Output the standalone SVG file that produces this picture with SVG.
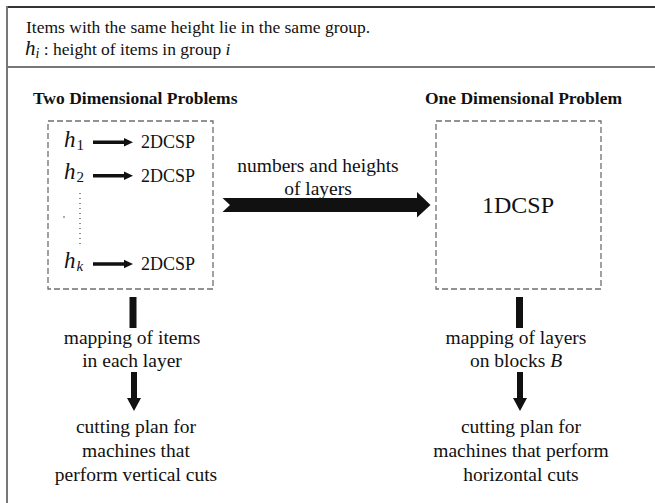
<svg xmlns="http://www.w3.org/2000/svg" width="655" height="503" viewBox="0 0 655 503">
<style>
.t{font-family:"Liberation Serif","Times New Roman",serif;fill:#111}
.b{font-weight:bold}
.c{text-anchor:middle}
.i{font-style:italic}
.box{fill:none;stroke:#6f6f6f;stroke-width:1.3;stroke-dasharray:6,3}
.ar{fill:#111}
</style>
<rect width="655" height="503" fill="#fff"/>
<g id="frame">
<line x1="7" y1="7" x2="655" y2="7" stroke="#333" stroke-width="2"/>
<line x1="7" y1="6" x2="7" y2="503" stroke="#777" stroke-width="2"/>
<line x1="7" y1="67" x2="655" y2="67" stroke="#777" stroke-width="2"/>
</g>
<g id="header">
<text class="t" x="26" y="33" font-size="17.5">Items with the same height lie in the same group.</text>
<text class="t" x="25" y="55" font-size="17.5"><tspan class="i" font-size="21">h</tspan><tspan class="i" font-size="14" dy="3">i</tspan><tspan dy="-3"> : height of items in group </tspan><tspan class="i">i</tspan></text>
</g>
<g id="two-dim">
<text class="t b" x="33" y="104" font-size="17.5">Two Dimensional Problems</text>
<rect class="box" x="48" y="121" width="165" height="168"/>
<text class="t i" x="64" y="147" font-size="23">h<tspan font-size="15" font-style="normal" dx="1" dy="3">1</tspan></text>
<text class="t i" x="64" y="179" font-size="23">h<tspan font-size="15" font-style="normal" dx="1" dy="3">2</tspan></text>
<text class="t i" x="64" y="268" font-size="23">h<tspan font-size="15" dx="1" dy="3">k</tspan></text>
<line x1="80" y1="193" x2="80" y2="244" stroke="#444" stroke-width="1.2" stroke-dasharray="1,4"/>
<circle cx="64" cy="217" r="0.8" fill="#444"/>
<text class="t" x="141" y="148" font-size="18">2DCSP</text>
<text class="t" x="141" y="182" font-size="18">2DCSP</text>
<text class="t" x="141" y="270" font-size="18">2DCSP</text>
</g>
<g id="one-dim">
<text class="t b c" x="523.5" y="104" font-size="17.5">One Dimensional Problem</text>
<rect class="box" x="436" y="121" width="165" height="168"/>
<text class="t c" x="518" y="213" font-size="24">1DCSP</text>
</g>
<g id="left-steps">
<text class="t c" x="132" y="344" font-size="19.5">mapping of items</text>
<text class="t c" x="132" y="367" font-size="19.5">in each layer</text>
<text class="t c" x="136" y="433" font-size="19.5">cutting plan for</text>
<text class="t c" x="136" y="457" font-size="19.5">machines that</text>
<text class="t c" x="136" y="481" font-size="19.5">perform vertical cuts</text>
</g>
<g id="right-steps">
<text class="t c" x="516" y="344" font-size="19.5">mapping of layers</text>
<text class="t c" x="516" y="367" font-size="19.5">on blocks <tspan class="i">B</tspan></text>
<text class="t c" x="521" y="433" font-size="19.5">cutting plan for</text>
<text class="t c" x="521" y="457" font-size="19.5">machines that perform</text>
<text class="t c" x="521" y="481" font-size="19.5">horizontal cuts</text>
</g>
<g id="connectors">
<polygon class="ar" points="93,140.5 124,140.5 124,138 133,142.3 124,146.6 124,144.1 93,144.1"/>
<polygon class="ar" points="93,173.9 124,173.9 124,171.4 133,175.7 124,180 124,177.5 93,177.5"/>
<polygon class="ar" points="93,262.2 124,262.2 124,259.7 133,264 124,268.3 124,265.8 93,265.8"/>
<polygon class="ar" points="222.5,198 417,198 417,192 430.5,205 417,217.5 417,212 222.5,212 230,205"/>
<text class="t c" x="318" y="172" font-size="19.5">numbers and heights</text>
<text class="t c" x="318" y="195" font-size="19.5">of layers</text>
<rect class="ar" x="129.5" y="297" width="7" height="31"/>
<polygon class="ar" points="131,372 137,372 137,398 141,398 134,411 127,398 131,398"/>
<rect class="ar" x="516" y="297" width="7" height="31"/>
<polygon class="ar" points="517,372 523,372 523,398 527,398 520,411 513,398 517,398"/>
</g>
</svg>
